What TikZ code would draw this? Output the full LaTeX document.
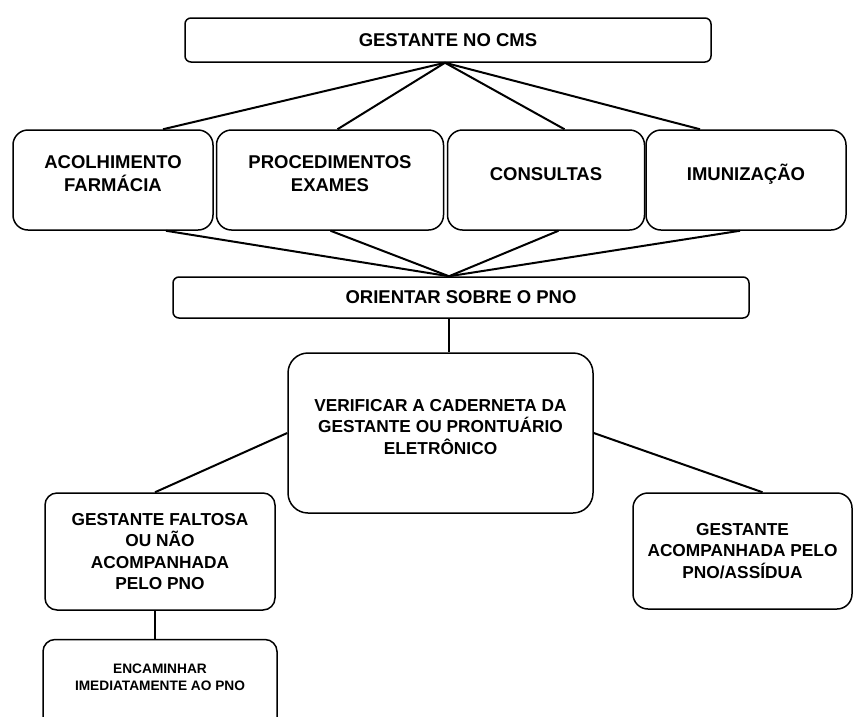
\documentclass[tikz,border=0pt]{standalone}
\usepackage{fontspec}
\setmainfont{Liberation Sans}
\usetikzlibrary{positioning}

\begin{document}
\begin{tikzpicture}[x=1pt, y=1pt, on grid, node distance=100pt,
    box/.style={draw, line width=1.5pt, rounded corners=#1, align=center, inner sep=0pt,
      font=\bfseries\fontsize{18.5}{23}\selectfont},
    box/.default=10pt,
    rowbox/.style={box=15pt, minimum width=200pt, minimum height=100pt, text depth=12pt},
    midfont/.style={font=\bfseries\fontsize{17.3}{21.5}\selectfont},
    conn/.style={line width=2pt}]
            \clip (0,0) rectangle (854,-716);
            \node [box=6pt, minimum width=526pt, minimum height=44pt] (top) at (448,-40) {GESTANTE NO CMS};
            \node [rowbox] [below left=140pt and 335pt of top] (acol) {ACOLHIMENTO\\FARMÁCIA};
            \node [rowbox, minimum width=227pt] [right=217pt of acol] (proc) {PROCEDIMENTOS\\EXAMES};
            \node [rowbox, minimum width=197pt] [right=216pt of proc] (cons) {CONSULTAS};
            \node [rowbox, text height=13.5pt] [right=200pt of cons] (imun) {IMUNIZAÇÃO};
            \node [box=6pt, minimum width=576pt, minimum height=41pt] [below right=257.5pt and 13pt of top] (orient) {ORIENTAR SOBRE O PNO};
            \node [box=20pt, midfont, minimum width=305pt, minimum height=160pt, text depth=13pt]
                [below left=135.5pt and 20.5pt of orient] (verif) {VERIFICAR A CADERNETA DA\\GESTANTE OU PRONTUÁRIO\\ELETRÔNICO};
            \node [box=12pt, midfont, minimum width=230pt, minimum height=117pt]
                [below left=118.5pt and 280.5pt of verif] (falt) {GESTANTE FALTOSA\\OU NÃO\\ACOMPANHADA\\PELO PNO};
            \node [box=15pt, midfont, minimum width=219pt, minimum height=116pt]
                [below right=118pt and 302pt of verif] (acomp) {GESTANTE\\ACOMPANHADA PELO\\PNO/ASSÍDUA};
            \node [box=12pt, on grid=false, minimum width=234pt, inner ysep=24pt, text depth=40pt,
                font=\bfseries\fontsize{13.7}{17}\selectfont]
                [below=28pt of falt] (encam) {ENCAMINHAR\\IMEDIATAMENTE AO PNO};
            \path[conn]
            	([xshift=-3pt]top.south) edge ([xshift=50pt]acol.north)
            		edge ([xshift=7.5pt]proc.north)
            		edge ([xshift=18.5pt]cons.north)
            		edge ([xshift=-46pt]imun.north)
            	([xshift=-12pt]orient.north) edge ([xshift=53pt]acol.south)
            		edge ([xshift=0.5pt]proc.south)
            		edge ([xshift=12.5pt]cons.south)
            		edge ([xshift=-6pt]imun.south)
            	([xshift=-12pt]orient.south) edge ([xshift=8.5pt]verif.north)
            	(verif.west) edge ([xshift=-5pt]falt.north)
            	(verif.east) edge ([xshift=20pt]acomp.north)
            	([xshift=-5pt]falt.south) edge ([xshift=-5pt]encam.north);
\end{tikzpicture}
\end{document}
